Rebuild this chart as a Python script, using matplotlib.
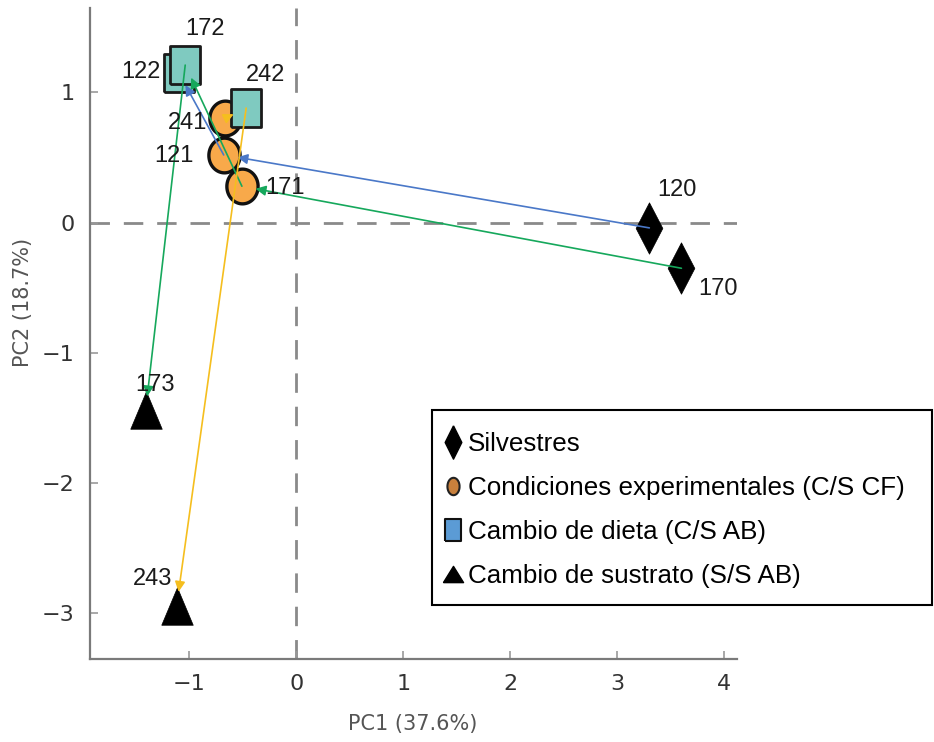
import numpy as np
import matplotlib
matplotlib.use('Agg')
import matplotlib.pyplot as plt
from matplotlib.lines import Line2D
from matplotlib.patches import Rectangle

plt.rcParams['font.family'] = ['Liberation Sans', 'DejaVu Sans']

# ── 資料：各樣本在 PC1 / PC2 上的座標 ─────────────────────────────
sample_ids = ['120', '170', '121', '171', '241', '122', '172', '242', '173', '243']
groups = ['silv', 'silv', 'cf', 'cf', 'cf', 'ab', 'ab', 'ab', 'sab', 'sab']
pc1 = [3.30, 3.60, -0.68, -0.51, -0.67, -1.10, -1.04, -0.47, -1.41, -1.12]
pc2 = [-0.04, -0.35, 0.52, 0.28, 0.80, 1.15, 1.21, 0.88, -1.44, -2.94]

# 各個體的軌跡（樣本編號依序連接）
path_blue = ['120', '121', '122']
path_green = ['170', '171', '172', '173']
path_yellow = ['241', '242', '243']

group_names = {
    'silv': 'Silvestres',
    'cf': 'Condiciones experimentales (C/S CF)',
    'ab': 'Cambio de dieta (C/S AB)',
    'sab': 'Cambio de sustrato (S/S AB)',
}

# ── 標記形狀（圖片比例略窄，所以用自訂頂點）─────────────────────
def ellipse(w):
    t = np.linspace(0, 2 * np.pi, 80)
    return list(zip(w * np.cos(t), 0.5 * np.sin(t)))

def rect(w):
    return [(-w, -0.5), (w, -0.5), (w, 0.5), (-w, 0.5), (-w, -0.5)]

def diamond(w):
    return [(0, 0.5), (w, 0), (0, -0.5), (-w, 0), (0, 0.5)]

def tri(w):
    return [(-w, -0.5), (w, -0.5), (0, 0.5), (-w, -0.5)]

style = {
    'silv': dict(marker=diamond(0.26), ms=37, mfc='black', mec='black', mew=0.5),
    'cf': dict(marker=ellipse(0.45), ms=25, mfc='#F8A94A', mec='#111111', mew=2.4),
    'ab': dict(marker=rect(0.39), ms=27, mfc='#7FCAC0', mec='#1a1a1a', mew=2.0),
    'sab': dict(marker=tri(0.42), ms=27, mfc='black', mec='black', mew=0.5),
}

# 標籤相對於點的位移（points）
label_off = {
    '120': (20, 27), '170': (26, -15), '121': (-36, -1), '171': (31, -1),
    '241': (-27, -3), '122': (-27, 1), '172': (14, 26), '242': (14, 24),
    '173': (7, 18), '243': (-17, 19),
}

fig = plt.figure(figsize=(9.34, 7.42), dpi=100)
ax = fig.add_axes([0.0964, 0.1119, 0.6927, 0.8776])

ax.set_xlim(-1.93, 4.12)
ax.set_ylim(-3.35, 1.65)

ax.axvline(0, color='#8a8a8a', lw=2.0, ls=(0, (7, 5)), zorder=1)
ax.axhline(0, color='#8a8a8a', lw=2.0, ls=(0, (7, 5)), zorder=1)

# 繪製樣本點（依序畫，後面的會蓋在前面上）
draw_order = ['120', '170', '241', '242', '121', '171', '122', '172', '173', '243']
for sid in draw_order:
    i = sample_ids.index(sid)
    ax.plot(pc1[i], pc2[i], ls='none', zorder=3, **style[groups[i]])
    ax.annotate(sid, (pc1[i], pc2[i]), xytext=label_off[sid], textcoords='offset points',
                ha='center', va='center', fontsize=17, color='#1a1a1a', zorder=6)

# 軌跡箭頭
def draw_path(path, color):
    for a, b in zip(path[:-1], path[1:]):
        ia, ib = sample_ids.index(a), sample_ids.index(b)
        ax.annotate('', xy=(pc1[ib], pc2[ib]), xytext=(pc1[ia], pc2[ia]),
                    arrowprops=dict(arrowstyle='-|>', color=color, lw=1.2,
                                    mutation_scale=15, shrinkA=0, shrinkB=10),
                    zorder=5)

draw_path(path_blue, '#4A78C8')
draw_path(path_green, '#16A85C')
draw_path(path_yellow, '#F5BE1E')

# 座標軸樣式
for side in ['top', 'right']:
    ax.spines[side].set_visible(False)
for side in ['left', 'bottom']:
    ax.spines[side].set_color('#7a7a7a')
    ax.spines[side].set_linewidth(1.6)

ax.set_xticks([-1, 0, 1, 2, 3, 4])
ax.set_yticks([1, 0, -1, -2, -3])
ax.tick_params(direction='in', length=6, width=1.2, color='#9a9a9a',
               labelsize=16, labelcolor='#333333', pad=11)
for lab in ax.get_xticklabels() + ax.get_yticklabels():
    lab.set_family(['DejaVu Sans'])

ax.set_xlabel('PC1 (37.6%)', fontsize=15, color='#555555', family=['DejaVu Sans'])
ax.set_ylabel('PC2 (18.7%)', fontsize=15, color='#555555', family=['DejaVu Sans'])
ax.xaxis.set_label_coords(0.498, -0.085)
ax.yaxis.set_label_coords(-0.088, 0.548)

# 圖例：外框單獨畫，讓右側留白和原本版面一致
fig.patches.append(Rectangle((0.4625, 0.1846), 0.5355, 0.2628, transform=fig.transFigure,
                             fill=False, edgecolor='black', lw=1.5, zorder=10))
handles = [
    Line2D([], [], ls='none', marker=diamond(0.25), ms=24, mfc='black', mec='black'),
    Line2D([], [], ls='none', marker=ellipse(0.35), ms=12.5, mfc='#C8803C', mec='#222222', mew=1.5),
    Line2D([], [], ls='none', marker=rect(0.34), ms=16, mfc='#5B9BD5', mec='#111111', mew=1.5),
    Line2D([], [], ls='none', marker=tri(0.62), ms=14.5, mfc='black', mec='black'),
]
leg = fig.legend(handles, [group_names[g] for g in ['silv', 'cf', 'ab', 'sab']],
                 loc='upper left', bbox_to_anchor=(0.475, 0.418), fontsize=18.7,
                 frameon=False, borderpad=0, handlelength=0.7, handletextpad=0.25,
                 labelspacing=0.77, borderaxespad=0)

fig.savefig('out.png', dpi=100)
